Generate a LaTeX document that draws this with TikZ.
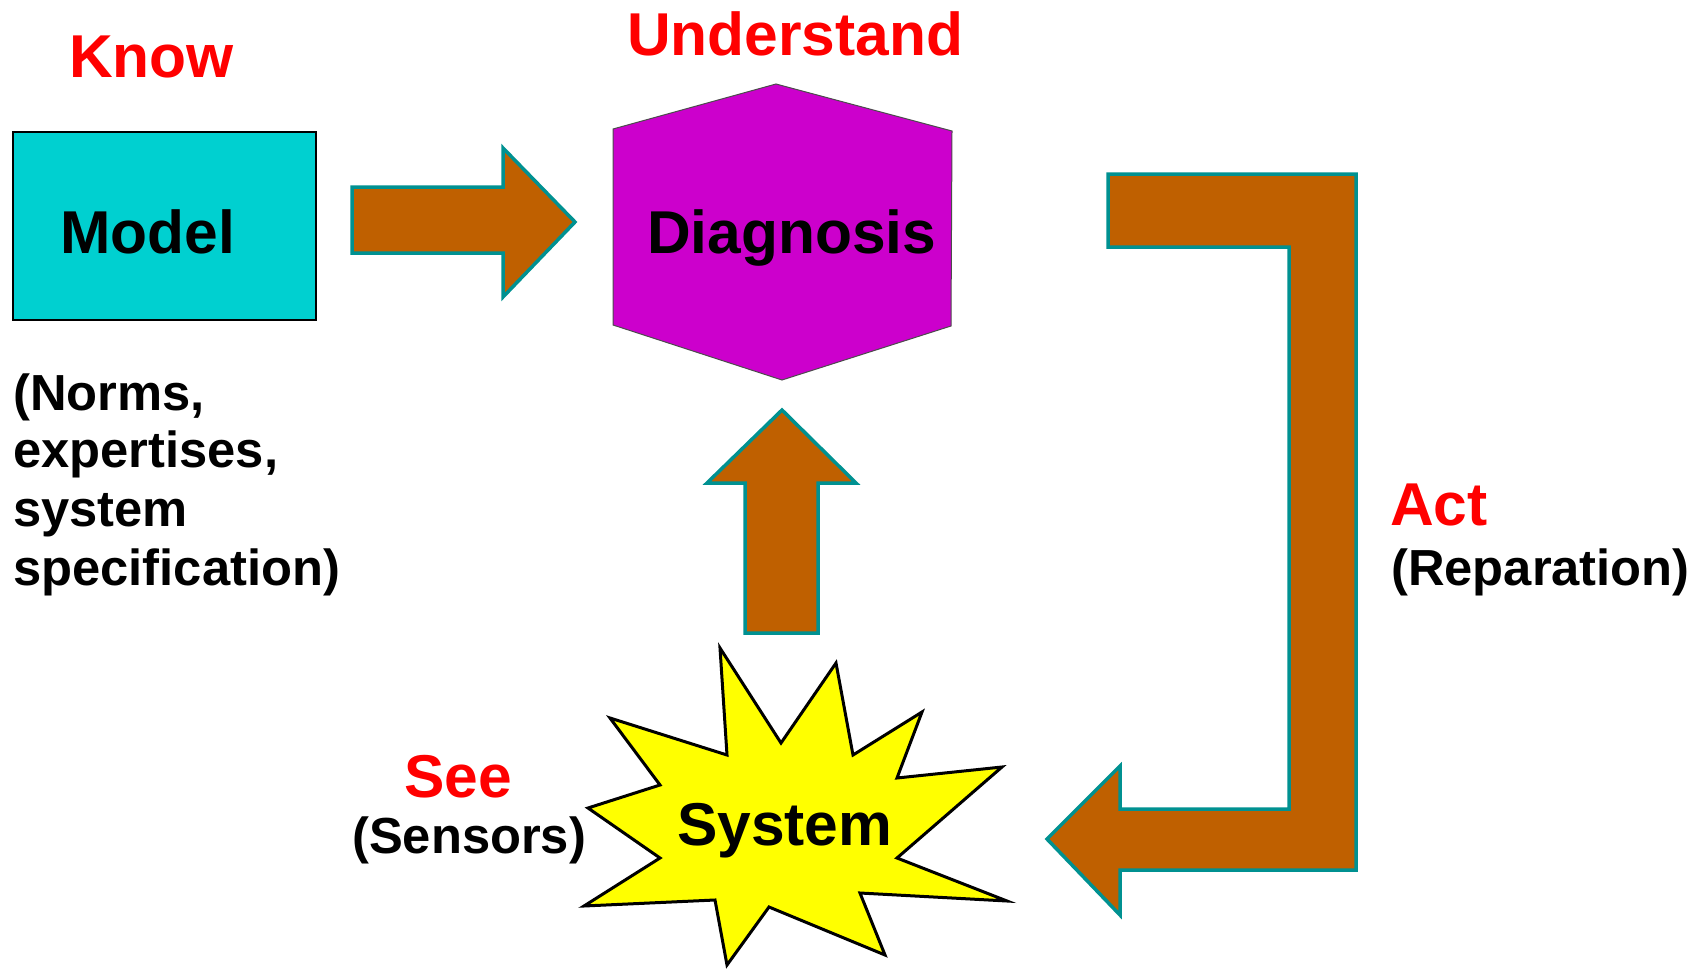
\documentclass[tikz,border=0pt]{standalone}
\usepackage{fontspec}
\setmainfont{Liberation Sans}
\definecolor{modelcyan}{RGB}{0,208,208}
\definecolor{diagmag}{RGB}{204,0,204}
\definecolor{arrowbrown}{RGB}{191,96,0}
\definecolor{arrowteal}{RGB}{0,145,145}
\definecolor{labelred}{RGB}{255,0,0}
\definecolor{staryellow}{RGB}{255,255,0}
\begin{document}
\begin{tikzpicture}[x=1pt,y=-1pt,
  blockarrow/.style={fill=arrowbrown,draw=arrowteal,line width=3.5pt,line join=miter},
  bigtext/.style={inner sep=0,anchor=base west,font=\bfseries\fontsize{60.5}{72}\selectfont},
  redlabel/.style={bigtext,text=labelred},
  smalltext/.style={inner sep=0,anchor=base west,font=\bfseries\fontsize{50.7}{58}\selectfont}]
\useasboundingbox (0,0) rectangle (1701,969);
% Model box
\path[fill=modelcyan,draw=black,line width=1.5pt] (13,132) rectangle (316,320);
% Diagnosis hexagon
\path[fill=diagmag,draw=black!70,line width=1pt] (776,84) -- (952,131) -- (951,326) -- (782,380) -- (613,325) -- (613,129) -- cycle;
% Arrow Model -> Diagnosis
\path[blockarrow] (352,187) -- (503,187) -- (503,148) -- (575,222) -- (503,297) -- (503,253) -- (352,253) -- cycle;
% Arrow System -> Diagnosis
\path[blockarrow] (745,633) -- (745,483) -- (707,483) -- (782,410) -- (856,483) -- (818,483) -- (818,633) -- cycle;
% Bent arrow Diagnosis -> System
\path[blockarrow] (1108,174) -- (1356,174) -- (1356,870) -- (1120,870) -- (1120,915) -- (1047,839) -- (1120,766) -- (1120,809) -- (1289,809) -- (1289,247) -- (1108,247) -- cycle;
% System star
\path[fill=staryellow,draw=black,line width=3pt,line join=miter]
 (720,648) -- (781,743) -- (836,663) -- (853,755) -- (922,712) -- (897,778) -- (1002,767) -- (897,858) -- (1007,901) -- (860,893) -- (885,955) -- (769,907) -- (727,965) -- (715,900) -- (584,906) -- (660,858) -- (588,808) -- (660,785) -- (610,718) -- (727,755) -- cycle;
% Labels
\node[redlabel] (know) at (69,77) {Know};
\node[redlabel] (understand) at (627,55) {Understand};
\node[redlabel] (act) at (1390,525) {Act};
\node[redlabel] (see) at (404,797) {See};
\node[bigtext] (model) at (60,253) {Model};
\node[bigtext] (diagnosis) at (647,253) {Diagnosis};
\node[bigtext] (system) at (677,845) {System};
\node[smalltext] (sensors) at (352,853) {(Sensors)};
\node[smalltext] (reparation) at (1391,585) {(Reparation)};
\node[smalltext] (norms) at (13,410) {(Norms,};
\node[smalltext] (expertises) at (13,467) {expertises,};
\node[smalltext] (systemw) at (13,526) {system};
\node[smalltext] (spec) at (13,585) {specification)};
\end{tikzpicture}
\end{document}
